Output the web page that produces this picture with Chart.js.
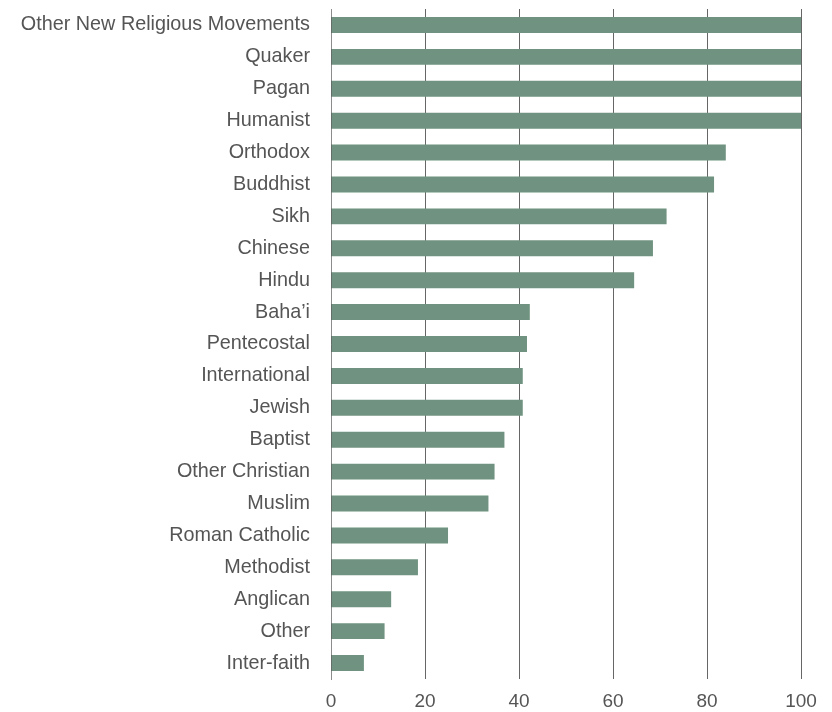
<!DOCTYPE html>
<html>
<head>
<meta charset="utf-8">
<script src="https://cdn.jsdelivr.net/npm/chart.js@4"></script>
<style>
  html, body { margin: 0; padding: 0; background: #fff; }
  #wrap { width: 832px; height: 712px; }
</style>
</head>
<body>
<div id="wrap"><canvas id="faithChart" width="832" height="712"></canvas></div>
<script>
// categories, top to bottom
const categories = [
    'Other New Religious Movements', 'Quaker', 'Pagan', 'Humanist', 'Orthodox',
    'Buddhist', 'Sikh', 'Chinese', 'Hindu', 'Baha\u2019i', 'Pentecostal',
    'International', 'Jewish', 'Baptist', 'Other Christian', 'Muslim',
    'Roman Catholic', 'Methodist', 'Anglican', 'Other', 'Inter-faith'
];
// values
const values = [100, 100, 100, 100, 84, 81.5, 71.4, 68.5, 64.5, 42.3, 41.7,
    40.8, 40.8, 36.9, 34.8, 33.5, 24.9, 18.5, 12.8, 11.4, 7];
const xTicks = [0, 20, 40, 60, 80, 100];

const ctx = document.getElementById('faithChart').getContext('2d');

new Chart(ctx, {
    type: 'bar',
    data: {
        labels: categories,
        datasets: [{
            data: values,
            backgroundColor: '#6f9380',
            borderWidth: 0,
            barPercentage: 0.5,
            categoryPercentage: 1
        }]
    },
    options: {
        indexAxis: 'y',
        responsive: false,
        animation: false,
        layout: { padding: { top: 9, right: 31, bottom: 0, left: 0 } },
        plugins: {
            legend: { display: false },
            tooltip: { enabled: false }
        },
        scales: {
            x: {
                min: 0,
                max: 100,
                afterBuildTicks: (scale) => {
                    scale.ticks = xTicks.map(v => ({ value: v }));
                },
                afterFit: (scale) => { scale.height = 33; },
                grid: {
                    drawTicks: false,
                    lineWidth: 1,
                    color: (c) => c.tick && c.tick.value === 0 ? 'rgba(0,0,0,0)' : 'rgba(0,0,0,0.6)'
                },
                border: { display: false },
                ticks: {
                    padding: 11,
                    color: '#555',
                    font: { family: 'Liberation Sans', size: 19 }
                }
            },
            y: {
                afterFit: (scale) => {
                    scale.width = 331;
                    // drop the label half-height padding so the bars start near the top
                    scale.paddingTop = 0;
                    scale.paddingBottom = 0;
                },
                grid: { display: false, drawTicks: false },
                border: { display: true, color: 'rgba(0,0,0,0.45)', width: 1, z: 1 },
                ticks: {
                    padding: 21,
                    color: '#555',
                    autoSkip: false,
                    font: { family: 'Liberation Sans', size: 19.8 }
                }
            }
        }
    }
});
</script>
</body>
</html>
